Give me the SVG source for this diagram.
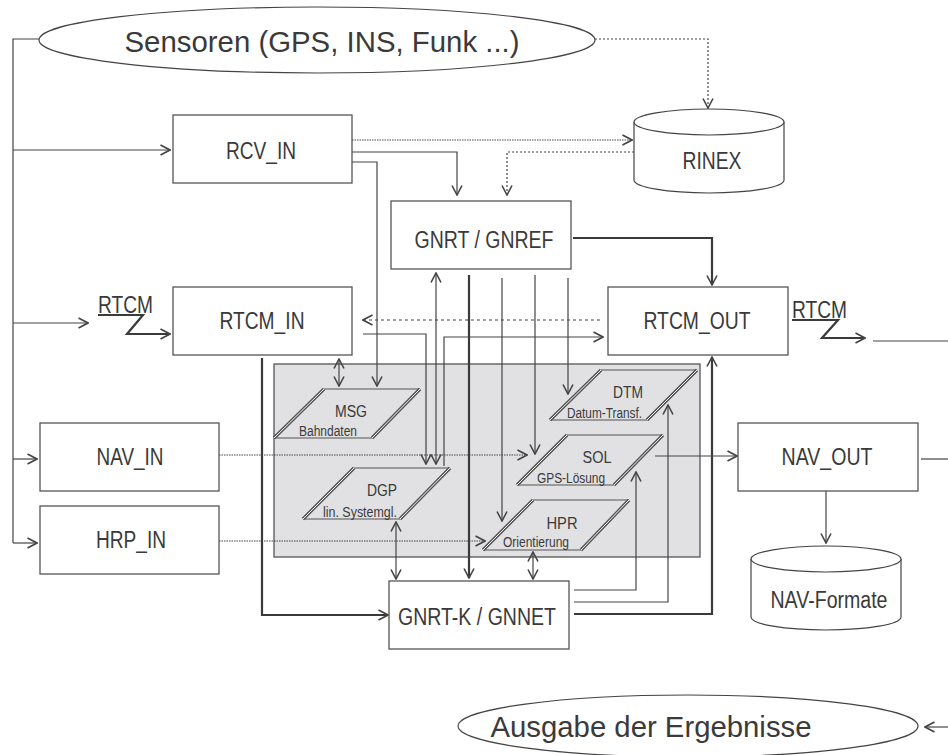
<svg xmlns="http://www.w3.org/2000/svg" width="948" height="755" viewBox="0 0 948 755">
<defs>
<style>
.bx{fill:#fff;stroke:#555;stroke-width:1.3}
.el{fill:#fff;stroke:#444;stroke-width:1.2}
.t{font-family:"Liberation Sans",Arial,sans-serif;fill:#3a3a3a}
.big{font-size:29px}
.lab{font-size:23px}
.sm{font-size:16px}
.xs{font-size:14px}
.c{fill:none;stroke:#444;stroke-width:1.2}
.th{stroke-width:2.2;stroke:#3a3a3a}
.d1{stroke-dasharray:1.5 1}
.d2{stroke-dasharray:2 2}
.d3{stroke-dasharray:3 3}
.pe{fill:none;stroke:#555;stroke-width:1.2}
.ps{fill:none;stroke:#555;stroke-width:3.4}
.pw{fill:none;stroke:#f4f4f4;stroke-width:1}
</style>
<marker id="ah" viewBox="0 0 12 12" refX="11" refY="6" markerWidth="12" markerHeight="12" markerUnits="userSpaceOnUse" orient="auto-start-reverse">
<path d="M1.5,1 L11,6 L1.5,11" fill="none" stroke="#444" stroke-width="1.6"/>
</marker>
</defs>
<rect width="948" height="755" fill="#fff"/>

<g id="panel">
<rect x="274" y="364" width="426" height="193" fill="#e1e1e3" stroke="#555" stroke-width="1.3"/>
</g>

<g id="connectors">
<path class="c" d="M40,39 H13 V543"/>
<path class="c" d="M13,150 H170" marker-end="url(#ah)"/>
<path class="c" d="M13,323 H88" marker-end="url(#ah)"/>
<path class="c" d="M13,459 H37" marker-end="url(#ah)"/>
<path class="c" d="M13,543 H37" marker-end="url(#ah)"/>
<path class="c d2" d="M595,39 H708 V108" marker-end="url(#ah)"/>
<path class="c d1" d="M352,140 H632" marker-end="url(#ah)"/>
<path class="c" d="M352,152 H457 V195" marker-end="url(#ah)"/>
<path class="c" d="M352,162 H377 V386" marker-end="url(#ah)"/>
<path class="c d2" d="M634,152 H507 V195" marker-end="url(#ah)"/>
<path class="c th" d="M573,238 H712 V285" marker-end="url(#ah)"/>
<path class="c d3" d="M600,320 H363" marker-end="url(#ah)"/>
<path class="c" d="M363,334 H426 V464" marker-end="url(#ah)"/>
<path class="c" d="M444,466 V337 H603" marker-end="url(#ah)"/>
<path class="c" d="M436,273 V464" marker-start="url(#ah)" marker-end="url(#ah)"/>
<path class="c th" d="M469,275 V578" marker-end="url(#ah)"/>
<path class="c" d="M502,278 V521" marker-end="url(#ah)"/>
<path class="c" d="M535,275 V454" marker-end="url(#ah)"/>
<path class="c" d="M568,278 V394" marker-end="url(#ah)"/>
<path class="c" d="M339,359 V386" marker-start="url(#ah)" marker-end="url(#ah)"/>
<path class="c th" d="M262,358 V615 H388" marker-end="url(#ah)"/>
<path class="c d1" d="M219,455 H527" marker-end="url(#ah)"/>
<path class="c d1" d="M219,541 H485" marker-end="url(#ah)"/>
<path class="c" d="M396,522 V579" marker-start="url(#ah)" marker-end="url(#ah)"/>
<path class="c" d="M533,552 V579" marker-start="url(#ah)" marker-end="url(#ah)"/>
<path class="c" d="M574,590 H636 V472" marker-end="url(#ah)"/>
<path class="c" d="M574,602 H668 V405" marker-end="url(#ah)"/>
<path class="c th" d="M574,614 H712 V357" marker-end="url(#ah)"/>
<path class="c" d="M655,456 H737" marker-end="url(#ah)"/>
<path class="c" d="M921,459 H948"/>
<path class="c" d="M826,491 V543" marker-end="url(#ah)"/>
<path class="c th" d="M792,320 H838 L822,338 H865" marker-end="url(#ah)"/>
<path class="c" d="M873,341 H948"/>
<path class="c th" d="M98,315 H143 L127,334 H170" marker-end="url(#ah)"/>
<path class="c" d="M948,727 H925" marker-end="url(#ah)"/>
</g>

<g id="rtcm_label_in"><text class="t lab" x="98" y="313" textLength="55" lengthAdjust="spacingAndGlyphs">RTCM</text></g>
<g id="rtcm_label_out"><text class="t lab" x="792" y="318" textLength="55" lengthAdjust="spacingAndGlyphs">RTCM</text></g>

<g id="sensoren">
<ellipse class="el" cx="317" cy="40" rx="278" ry="33"/>
<text class="t big" x="322" y="52" text-anchor="middle" textLength="395" lengthAdjust="spacingAndGlyphs">Sensoren (GPS, INS, Funk ...)</text>
</g>

<g id="rcv_in">
<rect class="bx" x="173" y="115" width="179" height="68"/>
<text class="t lab" x="261" y="159" text-anchor="middle" textLength="70" lengthAdjust="spacingAndGlyphs">RCV_IN</text>
</g>

<g id="rinex">
<path class="el" d="M634,122 V180 A75,13 0 0 0 784,180 V122"/>
<ellipse class="el" cx="709" cy="122" rx="75" ry="13"/>
<text class="t lab" x="712" y="169" text-anchor="middle" textLength="59" lengthAdjust="spacingAndGlyphs">RINEX</text>
</g>

<g id="gnref">
<rect class="bx" x="391" y="201" width="180" height="68"/>
<text class="t lab" x="484" y="248" text-anchor="middle" textLength="139" lengthAdjust="spacingAndGlyphs">GNRT / GNREF</text>
</g>

<g id="rtcm_in">
<rect class="bx" x="173" y="287" width="179" height="68"/>
<text class="t lab" x="262" y="329" text-anchor="middle" textLength="85" lengthAdjust="spacingAndGlyphs">RTCM_IN</text>
</g>

<g id="rtcm_out">
<rect class="bx" x="608" y="287" width="180" height="68"/>
<text class="t lab" x="697" y="329" text-anchor="middle" textLength="107" lengthAdjust="spacingAndGlyphs">RTCM_OUT</text>
</g>

<g id="msg">
<path class="pe" d="M324,389 H420 M274,438 H372"/>
<path class="ps" d="M274,438 L324,389 M372,438 L420,389"/>
<path class="pw" d="M274,438 L324,389 M372,438 L420,389"/>
<text class="t sm" x="351" y="417" text-anchor="middle" textLength="32" lengthAdjust="spacingAndGlyphs">MSG</text>
<text class="t xs" x="299" y="436" textLength="58" lengthAdjust="spacingAndGlyphs">Bahndaten</text>
</g>

<g id="dtm">
<path class="pe" d="M601,370 H697 M550,420 H647"/>
<path class="ps" d="M550,420 L601,370 M647,420 L697,370"/>
<path class="pw" d="M550,420 L601,370 M647,420 L697,370"/>
<text class="t sm" x="628" y="398" text-anchor="middle" textLength="30" lengthAdjust="spacingAndGlyphs">DTM</text>
<text class="t xs" x="567" y="418" textLength="75" lengthAdjust="spacingAndGlyphs">Datum-Transf.</text>
</g>

<g id="sol">
<path class="pe" d="M567,435 H663 M517,485 H614"/>
<path class="ps" d="M517,485 L567,435 M614,485 L663,435"/>
<path class="pw" d="M517,485 L567,435 M614,485 L663,435"/>
<text class="t sm" x="597" y="463" text-anchor="middle" textLength="29" lengthAdjust="spacingAndGlyphs">SOL</text>
<text class="t xs" x="537" y="483" textLength="68" lengthAdjust="spacingAndGlyphs">GPS-Lösung</text>
</g>

<g id="dgp">
<path class="pe" d="M354,468 H450 M303,519 H400"/>
<path class="ps" d="M303,519 L354,468 M400,519 L450,468"/>
<path class="pw" d="M303,519 L354,468 M400,519 L450,468"/>
<text class="t sm" x="382" y="496" text-anchor="middle" textLength="30" lengthAdjust="spacingAndGlyphs">DGP</text>
<text class="t xs" x="323" y="517" textLength="74" lengthAdjust="spacingAndGlyphs">lin. Systemgl.</text>
</g>

<g id="hpr">
<path class="pe" d="M533,500 H629 M483,550 H581"/>
<path class="ps" d="M483,550 L533,500 M581,550 L629,500"/>
<path class="pw" d="M483,550 L533,500 M581,550 L629,500"/>
<text class="t sm" x="562" y="529" text-anchor="middle" textLength="31" lengthAdjust="spacingAndGlyphs">HPR</text>
<text class="t xs" x="503" y="547" textLength="66" lengthAdjust="spacingAndGlyphs">Orientierung</text>
</g>

<g id="nav_in">
<rect class="bx" x="40" y="423" width="179" height="68"/>
<text class="t lab" x="130" y="465" text-anchor="middle" textLength="67" lengthAdjust="spacingAndGlyphs">NAV_IN</text>
</g>

<g id="hrp_in">
<rect class="bx" x="40" y="506" width="179" height="68"/>
<text class="t lab" x="131" y="548" text-anchor="middle" textLength="70" lengthAdjust="spacingAndGlyphs">HRP_IN</text>
</g>

<g id="nav_out">
<rect class="bx" x="738" y="423" width="180" height="68"/>
<text class="t lab" x="827" y="465" text-anchor="middle" textLength="91" lengthAdjust="spacingAndGlyphs">NAV_OUT</text>
</g>

<g id="nav_formate">
<path class="el" d="M751,559 V617 A75,13 0 0 0 901,617 V559"/>
<ellipse class="el" cx="826" cy="559" rx="75" ry="13"/>
<text class="t lab" x="829" y="608" text-anchor="middle" textLength="117" lengthAdjust="spacingAndGlyphs">NAV-Formate</text>
</g>

<g id="gnnet">
<rect class="bx" x="389" y="581" width="180" height="68"/>
<text class="t lab" x="477" y="625" text-anchor="middle" textLength="158" lengthAdjust="spacingAndGlyphs">GNRT-K / GNNET</text>
</g>

<g id="ausgabe">
<ellipse class="el" cx="688" cy="726" rx="230" ry="31"/>
<text class="t big" x="651" y="737" text-anchor="middle" textLength="321" lengthAdjust="spacingAndGlyphs">Ausgabe der Ergebnisse</text>
</g>
</svg>
